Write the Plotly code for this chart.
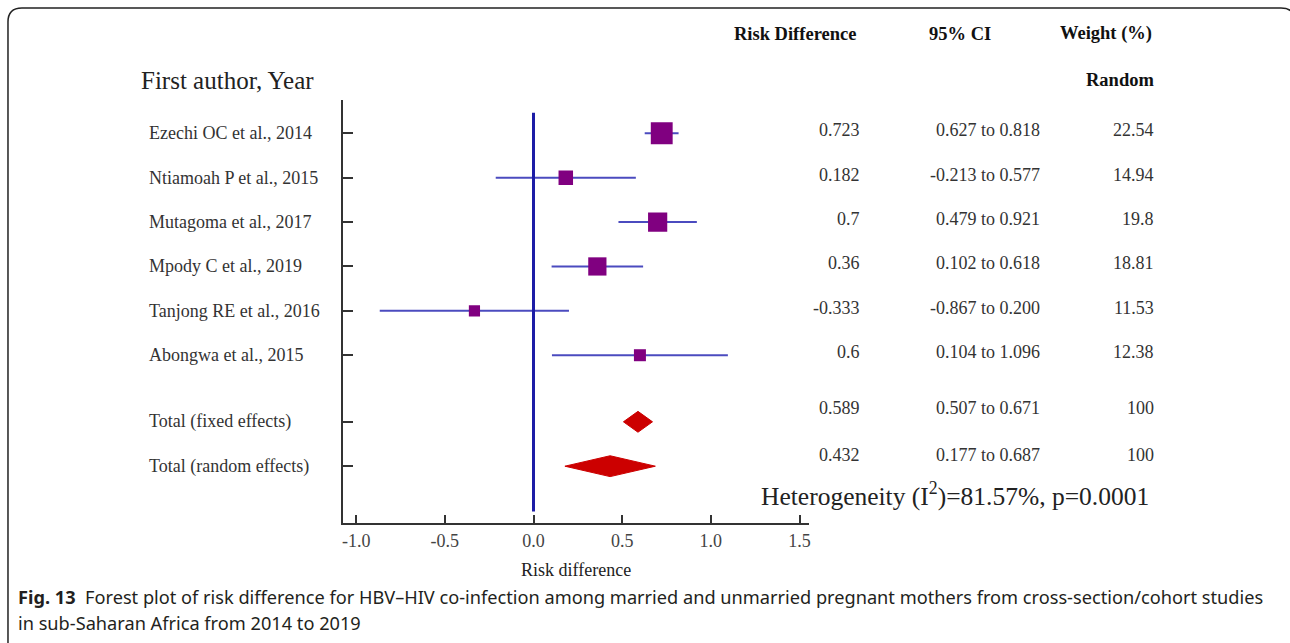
import plotly.graph_objects as go

# ---------------- data ----------------
studies = ["Ezechi OC et al., 2014", "Ntiamoah P et al., 2015", "Mutagoma et al., 2017",
           "Mpody C et al., 2019", "Tanjong RE et al., 2016", "Abongwa et al., 2015"]
rd = [0.723, 0.182, 0.7, 0.36, -0.333, 0.6]
ci_lo = [0.627, -0.213, 0.479, 0.102, -0.867, 0.104]
ci_hi = [0.818, 0.577, 0.921, 0.618, 0.200, 1.096]
weights = [22.54, 14.94, 19.8, 18.81, 11.53, 12.38]

totals = ["Total (fixed effects)", "Total (random effects)"]
tot_rd = [0.589, 0.432]
tot_lo = [0.507, 0.177]
tot_hi = [0.671, 0.687]
tot_w = [100, 100]

rd_txt = ["0.723", "0.182", "0.7", "0.36", "-0.333", "0.6"]
tot_rd_txt = ["0.589", "0.432"]
ci_txt = ["0.627 to 0.818", "-0.213 to 0.577", "0.479 to 0.921", "0.102 to 0.618",
          "-0.867 to 0.200", "0.104 to 1.096"]
tot_ci_txt = ["0.507 to 0.671", "0.177 to 0.687"]
w_txt = ["22.54", "14.94", "19.8", "18.81", "11.53", "12.38"]
tot_w_txt = ["100", "100"]

x_ticks = [-1.0, -0.5, 0.0, 0.5, 1.0, 1.5]
x_tick_labels = ["-1.0", "-0.5", "0.0", "0.5", "1.0", "1.5"]

# ---------------- layout helpers ----------------
W, H = 1290, 643
def px(v):
    return v / W
def py(v):
    return 1 - v / H

SERIF = "Liberation Serif, Times New Roman, serif"
rows = list(range(len(studies)))
tot_rows = [len(studies) + 0.5, len(studies) + 1.5]

fig = go.Figure()

# CI lines
cx, cy = [], []
for lo, hi, r in zip(ci_lo, ci_hi, rows):
    cx += [lo, hi, None]
    cy += [r, r, None]
fig.add_trace(go.Scatter(x=cx, y=cy, mode="lines",
                         line=dict(color="#4b4bbf", width=2), hoverinfo="skip"))

# squares
fig.add_trace(go.Scatter(x=rd, y=rows, mode="markers",
                         marker=dict(symbol="square", color="#800080", opacity=1,
                                     size=[w * 0.97 for w in weights],
                                     line=dict(width=0)),
                         hoverinfo="skip"))

# diamonds
DH = 0.235
for est, lo, hi, r in zip(tot_rd, tot_lo, tot_hi, tot_rows):
    fig.add_trace(go.Scatter(x=[lo, est, hi, est, lo], y=[r, r - DH, r, r + DH, r],
                             mode="lines", fill="toself", fillcolor="#cc0000",
                             line=dict(color="#cc0000", width=1), hoverinfo="skip"))

# zero line
fig.add_shape(type="line", xref="x", yref="y", x0=0, x1=0, y0=-0.46, y1=8.52,
              line=dict(color="#1c1ca6", width=3))

ann = []
# left labels
for lab, r in zip(studies + totals, rows + tot_rows):
    ann.append(dict(text=lab, xref="paper", yref="y", x=px(146), y=r, xanchor="left",
                    yanchor="middle", showarrow=False,
                    font=dict(family=SERIF, size=18, color="#333333")))
# value columns
for i, r in enumerate(rows):
    for txt, xr in ((rd_txt[i], 863), (ci_txt[i], 1043), (w_txt[i], 1158)):
        ann.append(dict(text=txt, xref="paper", yref="y", x=px(xr), y=r, yshift=3,
                        xanchor="right", yanchor="middle", showarrow=False,
                        font=dict(family=SERIF, size=18, color="#333333")))
for i, r in enumerate(tot_rows):
    for txt, xr in ((tot_rd_txt[i], 863), (tot_ci_txt[i], 1043), (tot_w_txt[i], 1158)):
        ann.append(dict(text=txt, xref="paper", yref="y", x=px(xr), y=r,
                        yshift=14 if i == 0 else 11,
                        xanchor="right", yanchor="middle", showarrow=False,
                        font=dict(family=SERIF, size=18, color="#333333")))

# headers
for txt, xc in (("Risk Difference", 796), ("95% CI", 961), ("Weight (%)", 1108)):
    ann.append(dict(text="<b>" + txt + "</b>", xref="paper", yref="paper", x=px(xc), y=py(34),
                    xanchor="center", yanchor="middle", showarrow=False,
                    font=dict(family=SERIF, size=18.5, color="#111111")))
ann.append(dict(text="<b>Random</b>", xref="paper", yref="paper", x=px(1158), y=py(80),
                xanchor="right", yanchor="middle", showarrow=False,
                font=dict(family=SERIF, size=18.5, color="#111111")))
ann.append(dict(text="First author, Year", xref="paper", yref="paper", x=px(138), y=py(80),
                xanchor="left", yanchor="middle", showarrow=False,
                font=dict(family=SERIF, size=25, color="#222222")))
ann.append(dict(text="Heterogeneity (I<sup>2</sup>)=81.57%, p=0.0001", xref="paper",
                yref="paper", x=px(760), y=py(494), xanchor="left", yanchor="middle",
                showarrow=False, font=dict(family=SERIF, size=25.5, color="#222222")))
ann.append(dict(text="Risk difference", xref="paper", yref="paper", x=px(576), y=py(570),
                xanchor="center", yanchor="middle", showarrow=False,
                font=dict(family=SERIF, size=18, color="#222222")))

# caption
CAP = "Noto Sans, Open Sans, sans-serif"
ann.append(dict(text="<b>Fig. 13</b>  Forest plot of risk difference for HBV\u2013HIV co-infection among "
                     "married and unmarried pregnant mothers from cross-section/cohort studies",
                xref="paper", yref="paper", x=px(15), y=py(597), xanchor="left",
                yanchor="middle", showarrow=False,
                font=dict(family=CAP, size=18.2, color="#231f20")))
ann.append(dict(text="in sub-Saharan Africa from 2014 to 2019",
                xref="paper", yref="paper", x=px(15), y=py(623), xanchor="left",
                yanchor="middle", showarrow=False,
                font=dict(family=CAP, size=18.2, color="#231f20")))

# rounded border (open at bottom / right, as cropped in the reference)
R = 14
L, T, RR, B = 7, 8, 1297, 700
path = (f"M {px(L)},{py(B)} L {px(L)},{py(T + R)} Q {px(L)},{py(T)} {px(L + R)},{py(T)} "
        f"L {px(RR - R)},{py(T)} Q {px(RR)},{py(T)} {px(RR)},{py(T + R)}")
fig.add_shape(type="path", xref="paper", yref="paper", path=path,
              line=dict(color="#222222", width=1.5), layer="below")

fig.update_layout(
    width=W, height=H, margin=dict(l=0, r=0, t=0, b=0),
    paper_bgcolor="white", plot_bgcolor="white", showlegend=False,
    annotations=ann,
    xaxis=dict(domain=[px(343), px(810)], range=[-1.073, 1.554], showgrid=False,
               zeroline=False, showline=True, linecolor="#333333", linewidth=2,
               ticks="inside", ticklen=8, tickwidth=2, tickcolor="#333333",
               tickvals=x_ticks, ticktext=x_tick_labels,
               tickfont=dict(family=SERIF, size=18, color="#444444")),
    yaxis=dict(domain=[1 - 523 / H, 1 - 100 / H], range=[8.78, -0.75], showgrid=False,
               zeroline=False, showline=True, linecolor="#333333", linewidth=2,
               ticks="inside", ticklen=10, tickwidth=2, tickcolor="#333333",
               tickvals=rows + tot_rows, showticklabels=False),
)

fig.write_html("out.html", config={"displayModeBar": False},
               post_script="document.body.style.margin='0';document.body.style.overflow='hidden';")
